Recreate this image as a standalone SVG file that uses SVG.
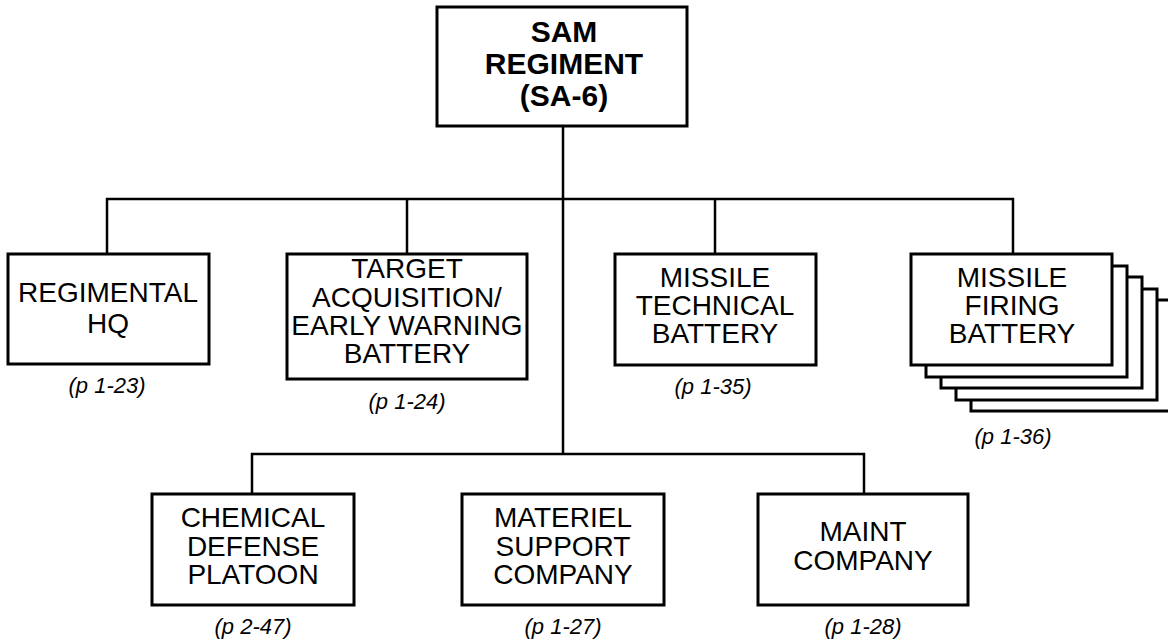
<svg xmlns="http://www.w3.org/2000/svg" width="1168" height="643" viewBox="0 0 1168 643">
<style>
.box{fill:#fff;stroke:#000;stroke-width:3}
.ln{fill:none;stroke:#000;stroke-width:2.5}
.t{font-family:"Liberation Sans",Arial,sans-serif;font-size:28px;text-anchor:middle;fill:#000}
.tb{font-family:"Liberation Sans",Arial,sans-serif;font-size:30px;font-weight:bold;text-anchor:middle;fill:#000}
.p{font-family:"Liberation Sans",Arial,sans-serif;font-size:22px;font-style:italic;text-anchor:middle;fill:#000}
</style>
<rect width="1168" height="643" fill="#fff"/>
<g id="connectors" class="ln">
<path d="M563 126V454"/>
<path d="M107 254V199H1013V254"/>
<path d="M407 199V254"/>
<path d="M715 199V254"/>
<path d="M252 494V454H864V494"/>
</g>
<g id="sam-regiment">
<rect class="box" x="437" y="7" width="250" height="119"/>
<text class="tb" x="564" y="42">SAM</text>
<text class="tb" x="564" y="74">REGIMENT</text>
<text class="tb" x="564" y="106">(SA-6)</text>
</g>
<g id="regimental-hq">
<rect class="box" x="8" y="254" width="201" height="110"/>
<text class="t" x="108" y="302">REGIMENTAL</text>
<text class="t" x="108" y="333">HQ</text>
<text class="p" x="107" y="393">(p 1-23)</text>
</g>
<g id="target-acquisition">
<rect class="box" x="287" y="254" width="240" height="125"/>
<text class="t" x="407" y="278">TARGET</text>
<text class="t" x="407" y="307">ACQUISITION/</text>
<text class="t" x="407" y="335">EARLY WARNING</text>
<text class="t" x="407" y="363">BATTERY</text>
<text class="p" x="407" y="409">(p 1-24)</text>
</g>
<g id="missile-technical">
<rect class="box" x="615" y="254" width="201" height="111"/>
<text class="t" x="715" y="287">MISSILE</text>
<text class="t" x="715" y="315">TECHNICAL</text>
<text class="t" x="715" y="343">BATTERY</text>
<text class="p" x="713" y="394">(p 1-35)</text>
</g>
<g id="missile-firing">
<rect class="box" x="971" y="300" width="201" height="111"/>
<rect class="box" x="956" y="289" width="201" height="111"/>
<rect class="box" x="941" y="277" width="201" height="111"/>
<rect class="box" x="926" y="266" width="201" height="111"/>
<rect class="box" x="911" y="254" width="201" height="111"/>
<text class="t" x="1012" y="287">MISSILE</text>
<text class="t" x="1012" y="315">FIRING</text>
<text class="t" x="1012" y="343">BATTERY</text>
<text class="p" x="1013" y="444">(p 1-36)</text>
</g>
<g id="chemical-defense">
<rect class="box" x="152" y="494" width="202" height="111"/>
<text class="t" x="253" y="527">CHEMICAL</text>
<text class="t" x="253" y="556">DEFENSE</text>
<text class="t" x="253" y="584">PLATOON</text>
<text class="p" x="253" y="634">(p 2-47)</text>
</g>
<g id="materiel-support">
<rect class="box" x="462" y="494" width="202" height="111"/>
<text class="t" x="563" y="527">MATERIEL</text>
<text class="t" x="563" y="556">SUPPORT</text>
<text class="t" x="563" y="584">COMPANY</text>
<text class="p" x="563" y="634">(p 1-27)</text>
</g>
<g id="maint-company">
<rect class="box" x="758" y="494" width="210" height="111"/>
<text class="t" x="863" y="541">MAINT</text>
<text class="t" x="863" y="570">COMPANY</text>
<text class="p" x="863" y="634">(p 1-28)</text>
</g>
</svg>
